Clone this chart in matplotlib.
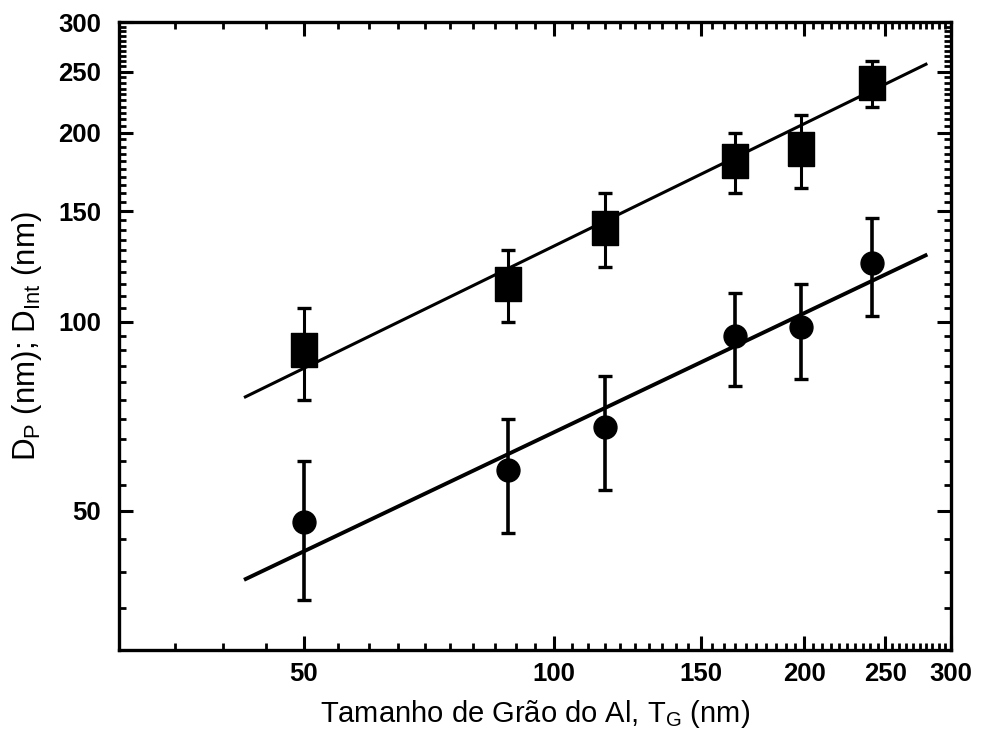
import numpy as np
import matplotlib

matplotlib.use("Agg")
import matplotlib.pyplot as plt
from matplotlib.ticker import FixedLocator, FixedFormatter, NullFormatter

plt.rcParams["font.family"] = ["Liberation Sans Narrow", "Liberation Sans", "DejaVu Sans"]
plt.rcParams["mathtext.fontset"] = "custom"
plt.rcParams["mathtext.rm"] = "Liberation Sans Narrow"

# grain size of Al (nm)
grain_size = [50, 88, 115, 165, 198, 241]

# D_P (squares) and D_Int (circles), with error bars
d_p = [90, 115, 141, 180, 188, 240]
d_p_err = [15, 15, 19, 20, 25, 20]
d_int = [48, 58, 68, 95, 98, 124]
d_int_err = [12, 12, 14, 16, 17, 22]

# fitted power-law lines, read at their end points
fit_x = [42.4, 281]
fit_p = [75.7, 257.6]
fit_int = [38.8, 127.9]

major_ticks = [50, 100, 150, 200, 250, 300]
major_labels = ["50", "100", "150", "200", "250", "300"]
minor_ticks = [v for v in range(35, 300, 5) if v not in major_ticks]

fig = plt.figure(figsize=(9.81, 7.46), dpi=100)
ax = fig.add_axes([0.1213, 0.1287, 0.8481, 0.8418])

rect = [(-0.8, -1), (0.8, -1), (0.8, 1), (-0.8, 1), (-0.8, -1)]

ax.plot(fit_x, fit_p, color="black", lw=2.2, solid_capstyle="butt", zorder=2)
ax.plot(fit_x, fit_int, color="black", lw=2.8, solid_capstyle="butt", zorder=2)

ax.errorbar(grain_size, d_p, yerr=d_p_err, fmt="none", ecolor="black",
            elinewidth=2.2, capsize=5, capthick=2.4, zorder=3)
ax.plot(grain_size, d_p, linestyle="none", marker=rect, markersize=24,
        color="black", zorder=4)

ax.errorbar(grain_size, d_int, yerr=d_int_err, fmt="none", ecolor="black",
            elinewidth=2.6, capsize=5, capthick=2.4, zorder=3)
ax.plot(grain_size, d_int, linestyle="none", marker="o", markersize=16.5,
        color="black", zorder=4)

ax.set_xscale("log")
ax.set_yscale("log")
ax.set_xlim(30, 300)
ax.set_ylim(30, 300)

for axis in (ax.xaxis, ax.yaxis):
    axis.set_major_locator(FixedLocator(major_ticks))
    axis.set_major_formatter(FixedFormatter(major_labels))
    axis.set_minor_locator(FixedLocator(minor_ticks))
    axis.set_minor_formatter(NullFormatter())

ax.tick_params(which="both", direction="in", top=True, right=True, color="black")
ax.tick_params(which="major", length=10, width=2.2, labelsize=18.5, pad=9)
ax.tick_params(which="minor", length=5, width=2.0)
ax.tick_params(axis="y", which="major", pad=13)
for label in ax.get_xticklabels() + ax.get_yticklabels():
    label.set_fontweight("bold")

for spine in ax.spines.values():
    spine.set_linewidth(2.4)

ax.set_xlabel(r"Tamanho de Grão do Al, T$_\mathregular{G}$ (nm)", fontsize=21, labelpad=8)
ax.set_ylabel(r"D$_\mathregular{P}$ (nm); D$_\mathregular{Int}$ (nm)", fontsize=22.5, labelpad=10)

fig.savefig("out.png", dpi=100)
